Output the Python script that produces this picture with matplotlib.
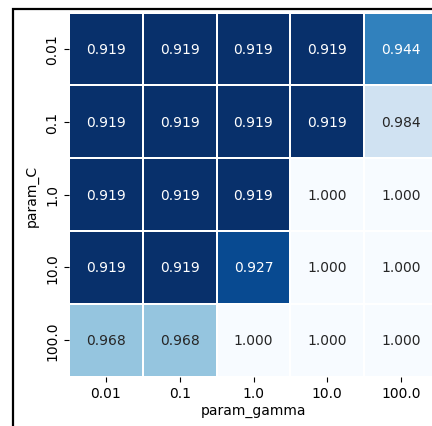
import numpy as np
import pandas as pd
import matplotlib
matplotlib.use('Agg')
import matplotlib.pyplot as plt
import seaborn as sns
from matplotlib.patches import Rectangle

param_C = ['0.01', '0.1', '1.0', '10.0', '100.0']
param_gamma = ['0.01', '0.1', '1.0', '10.0', '100.0']

# mean test score, rows = C, columns = gamma
scores = [
	[0.919, 0.919, 0.919, 0.919, 0.944],
	[0.919, 0.919, 0.919, 0.919, 0.984],
	[0.919, 0.919, 0.919, 1.000, 1.000],
	[0.919, 0.919, 0.927, 1.000, 1.000],
	[0.968, 0.968, 1.000, 1.000, 1.000],
]

table = pd.DataFrame(scores, index=param_C, columns=param_gamma)
table.index.name = 'param_C'
table.columns.name = 'param_gamma'

W, H = 432, 427
fig = plt.figure(figsize=(W / 100, H / 100), dpi=100)
ax = fig.add_axes([69 / W, 1 - 377.5 / H, (438 - 69) / W, (377.5 - 13.5) / H])

sns.heatmap(table, annot=True, fmt='.3f', cmap='Blues_r', cbar=False,
	linewidths=1.1, linecolor='white', ax=ax)

ax.set_yticklabels(param_C, rotation=90, va='center')
ax.set_xticklabels(param_gamma, rotation=0)
ax.set_xlabel('param_gamma', labelpad=2)
ax.set_ylabel('param_C', labelpad=5)

# outer frame around the plot area
fig.patches.append(Rectangle((13 / W, -0.1), 1.2, 1.1 - 10 / H, transform=fig.transFigure,
	fill=False, edgecolor='black', linewidth=1.6, zorder=10))

fig.savefig('out.png', dpi=100)
